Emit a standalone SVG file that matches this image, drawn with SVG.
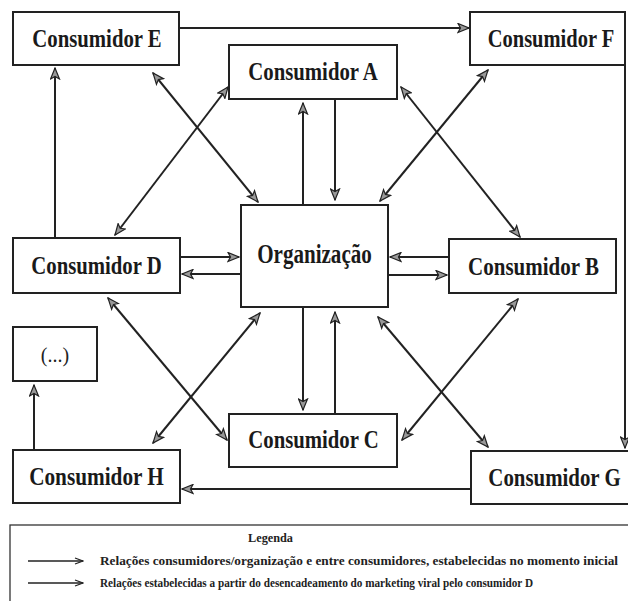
<svg xmlns="http://www.w3.org/2000/svg" width="628" height="601" viewBox="0 0 628 601">
<style>
.box{fill:#fff;stroke:#222;stroke-width:2}
.lbl{font-family:"Liberation Serif","Times New Roman",serif;font-weight:bold;font-size:25px;fill:#1a1a1a;text-anchor:middle}
.c{fill:none;stroke:#222;stroke-width:2}
.leg{font-family:"Liberation Serif","Times New Roman",serif;font-weight:bold;font-size:12px;fill:#222}
</style>
<defs>
<marker id="ah" viewBox="0 0 13 11" refX="12" refY="5.5" markerWidth="13" markerHeight="11" markerUnits="userSpaceOnUse" orient="auto-start-reverse">
<path d="M1,1 L12,5.5 L1,10 L3.5,5.5 Z" fill="#999" stroke="#222" stroke-width="1.2" stroke-linejoin="miter"/>
</marker>
<marker id="lh" viewBox="0 0 10 8" refX="9" refY="4" markerWidth="10" markerHeight="8" markerUnits="userSpaceOnUse" orient="auto">
<path d="M1,1 L9,4 L1,7" fill="none" stroke="#222" stroke-width="1.3"/>
</marker>
</defs>
<rect width="628" height="601" fill="#fff"/>

<g id="connectors">
<path class="c" d="M179,28 H469" marker-end="url(#ah)"/>
<path class="c" d="M55,238 V68" marker-end="url(#ah)"/>
<path class="c" d="M625,65 V448" marker-end="url(#ah)"/>
<path class="c" d="M471,489 H182" marker-end="url(#ah)"/>
<path class="c" d="M34,450 V385" marker-end="url(#ah)"/>
<path class="c" d="M303,205 V103" marker-end="url(#ah)"/>
<path class="c" d="M335,99 V200" marker-end="url(#ah)"/>
<path class="c" d="M303,307 V410" marker-end="url(#ah)"/>
<path class="c" d="M335,414 V312" marker-end="url(#ah)"/>
<path class="c" d="M180,257 H239" marker-end="url(#ah)"/>
<path class="c" d="M241,274 H182" marker-end="url(#ah)"/>
<path class="c" d="M449,257 H390" marker-end="url(#ah)"/>
<path class="c" d="M388,275 H447" marker-end="url(#ah)"/>
<path class="c" d="M115,235 L228,87" marker-start="url(#ah)" marker-end="url(#ah)"/>
<path class="c" d="M153,73 L258,202" marker-start="url(#ah)" marker-end="url(#ah)"/>
<path class="c" d="M401,87 L520,237" marker-start="url(#ah)" marker-end="url(#ah)"/>
<path class="c" d="M488,70 L380,201" marker-start="url(#ah)" marker-end="url(#ah)"/>
<path class="c" d="M108,298 L227,440" marker-start="url(#ah)" marker-end="url(#ah)"/>
<path class="c" d="M153,443 L260,313" marker-start="url(#ah)" marker-end="url(#ah)"/>
<path class="c" d="M402,440 L518,299" marker-start="url(#ah)" marker-end="url(#ah)"/>
<path class="c" d="M378,317 L488,447" marker-start="url(#ah)" marker-end="url(#ah)"/>
</g>

<g id="consumidorE"><rect class="box" x="13" y="12" width="166" height="53"/><text class="lbl" transform="translate(97,47) scale(0.83,1)">Consumidor E</text></g>
<g id="consumidorA"><rect class="box" x="229" y="45" width="168" height="54"/><text class="lbl" transform="translate(313,80) scale(0.83,1)">Consumidor A</text></g>
<g id="consumidorF"><rect class="box" x="470" y="12" width="155" height="53"/><text class="lbl" transform="translate(551,47) scale(0.82,1)">Consumidor F</text></g>
<g id="organizacao"><rect class="box" x="241" y="205" width="147" height="102"/><text class="lbl" style="font-size:27px" transform="translate(314.5,263) scale(0.78,1)">Organização</text></g>
<g id="consumidorD"><rect class="box" x="13" y="238" width="167" height="55"/><text class="lbl" transform="translate(96.5,274) scale(0.83,1)">Consumidor D</text></g>
<g id="consumidorB"><rect class="box" x="449" y="239" width="167" height="54"/><text class="lbl" transform="translate(533.5,275) scale(0.84,1)">Consumidor B</text></g>
<g id="reticencias"><rect class="box" x="13" y="327" width="84" height="54"/><text x="55" y="362" style="font-family:'Liberation Serif','Times New Roman',serif;font-size:20px;fill:#222;text-anchor:middle">(...)</text></g>
<g id="consumidorC"><rect class="box" x="229" y="414" width="168" height="53"/><text class="lbl" transform="translate(313.5,448) scale(0.83,1)">Consumidor C</text></g>
<g id="consumidorH"><rect class="box" x="13" y="450" width="167" height="53"/><text class="lbl" transform="translate(96.5,485) scale(0.85,1)">Consumidor H</text></g>
<g id="consumidorG"><rect class="box" x="471" y="451" width="170" height="53"/><text class="lbl" transform="translate(554.5,486) scale(0.835,1)">Consumidor G</text></g>

<g id="legenda">
<rect x="10" y="525" width="640" height="100" fill="none" stroke="#333" stroke-width="1.3"/>
<text class="leg" x="248" y="542" textLength="45" lengthAdjust="spacingAndGlyphs">Legenda</text>
<path d="M28,561 H83" stroke="#222" stroke-width="1.5" fill="none" marker-end="url(#lh)"/>
<text class="leg" x="100" y="565" textLength="518" lengthAdjust="spacingAndGlyphs">Relações consumidores/organização e entre consumidores, estabelecidas no momento inicial</text>
<path d="M28,583 H83" stroke="#222" stroke-width="1.5" fill="none" marker-end="url(#lh)"/>
<text class="leg" x="100" y="587" textLength="433" lengthAdjust="spacingAndGlyphs">Relações estabelecidas a partir do desencadeamento do marketing viral pelo consumidor D</text>
</g>
</svg>
